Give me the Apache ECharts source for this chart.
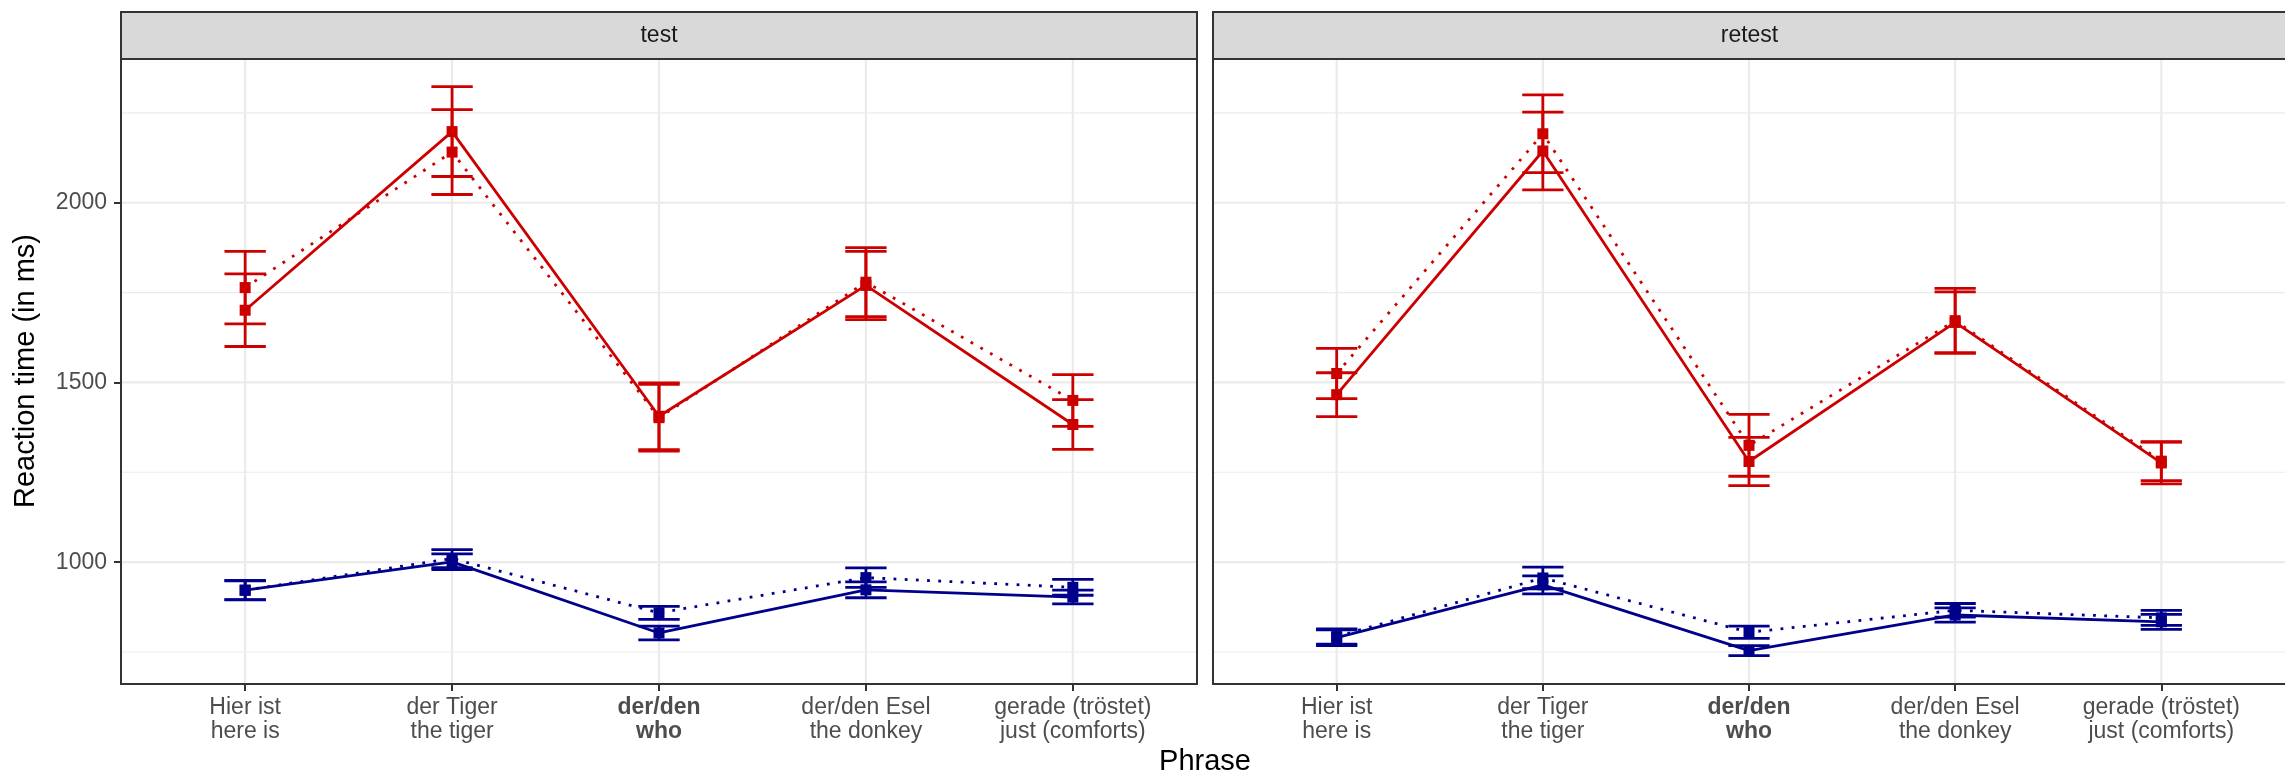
<!DOCTYPE html>
<html>
<head>
<meta charset="utf-8">
<script src="https://cdn.jsdelivr.net/npm/echarts@6/dist/echarts.min.js"></script>
<style>
html,body{margin:0;padding:0;background:#fff;}
#chart{width:2285px;height:782px;}
</style>
</head>
<body>
<div id="chart"></div>
<script>
// ---- data ----
const categories = [
  ["Hier ist", "here is"],
  ["der Tiger", "the tiger"],
  ["der/den", "who"],
  ["der/den Esel", "the donkey"],
  ["gerade (tröstet)", "just (comforts)"]
];
const boldCategory = 2;
const panels = ["test", "retest"];
const yTickLabels = [1000, 1500, 2000];
const yMinorLines = [750, 1250, 1750, 2250];

// test panel
const testRedSolid      = [1701, 2198, 1406, 1770, 1383];
const testRedSolidErr   = [101, 125, 93, 95, 69];
const testRedDotted     = [1764, 2141, 1402, 1779, 1450];
const testRedDottedErr  = [101, 118, 93, 96, 72];
const testBlueSolid     = [922, 1001, 803, 923, 903];
const testBlueSolidErr  = [27, 22, 19, 22, 19];
const testBlueDotted    = [922, 1010, 859, 957, 930];
const testBlueDottedErr = [26, 25, 18, 27, 22];

// retest panel
const retestRedSolid      = [1466, 2144, 1280, 1667, 1276];
const retestRedSolidErr   = [61, 108, 67, 85, 58];
const retestRedDotted     = [1525, 2192, 1325, 1672, 1281];
const retestRedDottedErr  = [70, 108, 86, 90, 54];
const retestBlueSolid     = [790, 937, 754, 853, 834];
const retestBlueSolidErr  = [22, 25, 14, 20, 21];
const retestBlueDotted    = [793, 956, 805, 866, 845];
const retestBlueDottedErr = [21, 30, 17, 19, 21];

// ---- styles / layout ----
const RED = '#CD0000', BLUE = '#00008B';
const FONT = "'Liberation Sans', Arial, Helvetica, sans-serif";
const Y_MIN = 661, Y_MAX = 2400;
const gridsPx = [
  {left: 121, top: 59, width: 1076, height: 625},
  {left: 1213, top: 59, width: 1077, height: 625}
];
const LW = 2.8;

const chart = echarts.init(document.getElementById('chart'), null, {renderer: 'canvas'});

const catIdx = categories.map((c, i) => i);

function hGridSeries(g) {
  const data = yMinorLines.map(v => [0, v, 0]).concat(yTickLabels.map(v => [0, v, 1]));
  return {
    type: 'custom', xAxisIndex: g, yAxisIndex: g, z: 0, silent: true,
    data: data,
    encode: {x: 0, y: 1},
    renderItem: (params, api) => {
      const cs = params.coordSys;
      const y = api.coord([0, api.value(1)])[1];
      const major = api.value(2) === 1;
      return {type: 'line', shape: {x1: cs.x, y1: y, x2: cs.x + cs.width, y2: y},
        style: {stroke: '#EBEBEB', lineWidth: major ? 2.2 : 1.1}};
    }
  };
}
function vGridSeries(g) {
  return {
    type: 'custom', xAxisIndex: g, yAxisIndex: g, z: 0, silent: true,
    data: catIdx.map(i => [i, Y_MIN]),
    encode: {x: 0, y: 1},
    renderItem: (params, api) => {
      const cs = params.coordSys;
      const x = api.coord([api.value(0), Y_MIN])[0];
      return {type: 'line', shape: {x1: x, y1: cs.y, x2: x, y2: cs.y + cs.height},
        style: {stroke: '#EBEBEB', lineWidth: 2.2}};
    }
  };
}
function errSeries(g, means, errs, color) {
  return {
    type: 'custom', xAxisIndex: g, yAxisIndex: g, z: 3, silent: true,
    data: means.map((m, i) => [i, m - errs[i], m + errs[i]]),
    encode: {x: 0, y: [1, 2]},
    renderItem: (params, api) => {
      const x = api.value(0);
      const lo = api.coord([x, api.value(1)]);
      const hi = api.coord([x, api.value(2)]);
      const half = api.coord([x + 0.1, api.value(1)])[0] - lo[0];
      const st = {stroke: color, lineWidth: LW};
      return {type: 'group', children: [
        {type: 'line', shape: {x1: lo[0], y1: lo[1], x2: hi[0], y2: hi[1]}, style: st},
        {type: 'line', shape: {x1: lo[0] - half, y1: lo[1], x2: lo[0] + half, y2: lo[1]}, style: st},
        {type: 'line', shape: {x1: hi[0] - half, y1: hi[1], x2: hi[0] + half, y2: hi[1]}, style: st}
      ]};
    }
  };
}
function lineSeries(g, means, color, dotted) {
  return {
    type: 'line', xAxisIndex: g, yAxisIndex: g, z: 4, silent: true,
    data: means.map((m, i) => [i, m]),
    symbol: 'rect', symbolSize: 11, showSymbol: true,
    itemStyle: {color: color},
    lineStyle: {color: color, width: LW, type: dotted ? [LW, LW * 3] : 'solid', cap: 'butt'},
    animation: false
  };
}

const panelData = [
  [[testRedSolid, testRedSolidErr, RED, false], [testRedDotted, testRedDottedErr, RED, true],
   [testBlueSolid, testBlueSolidErr, BLUE, false], [testBlueDotted, testBlueDottedErr, BLUE, true]],
  [[retestRedSolid, retestRedSolidErr, RED, false], [retestRedDotted, retestRedDottedErr, RED, true],
   [retestBlueSolid, retestBlueSolidErr, BLUE, false], [retestBlueDotted, retestBlueDottedErr, BLUE, true]]
];

const series = [];
panels.forEach((p, g) => {
  series.push(hGridSeries(g), vGridSeries(g));
  panelData[g].forEach(d => series.push(errSeries(g, d[0], d[1], d[2])));
  panelData[g].forEach(d => series.push(lineSeries(g, d[0], d[2], d[3])));
});

const labelRich = {
  n: {fontSize: 23, color: '#4D4D4D', fontFamily: FONT, lineHeight: 24},
  b: {fontSize: 23, color: '#4D4D4D', fontFamily: FONT, lineHeight: 24, fontWeight: 'bold'}
};

const xAxes = panels.map((p, g) => ({
  type: 'value', gridIndex: g, min: -0.6, max: categories.length - 0.4,
  axisLine: {show: false, onZero: false},
  splitLine: {show: false},
  axisTick: {show: true, customValues: catIdx, length: 7, lineStyle: {color: '#333333', width: 2}},
  axisLabel: {
    show: true, customValues: catIdx, margin: 12, align: 'center',
    formatter: (v) => {
      const i = Math.round(v);
      const c = categories[i];
      if (!c) return '';
      const k = i === boldCategory ? 'b' : 'n';
      return '{' + k + '|' + c[0] + '}\n{' + k + '|' + c[1] + '}';
    },
    rich: labelRich
  }
}));
const yAxes = panels.map((p, g) => ({
  type: 'value', gridIndex: g, min: Y_MIN, max: Y_MAX,
  axisLine: {show: false, onZero: false},
  splitLine: {show: false},
  axisTick: {show: g === 0, customValues: yTickLabels, length: 7, lineStyle: {color: '#333333', width: 2}},
  axisLabel: {show: g === 0, customValues: yTickLabels, margin: 14, fontSize: 23, color: '#4D4D4D', fontFamily: FONT,
    formatter: (v) => String(Math.round(v))}
}));

const graphics = [];
gridsPx.forEach((r, g) => {
  graphics.push({type: 'rect', z: 100, shape: {x: r.left, y: 12, width: r.width, height: r.top - 12},
    style: {fill: '#D9D9D9', stroke: '#333333', lineWidth: 2}});
  graphics.push({type: 'text', z: 101, x: r.left + r.width / 2 - (g === 1 ? 2 : 0), y: (12 + r.top) / 2,
    style: {text: panels[g], font: '23px ' + FONT, fill: '#1A1A1A', textAlign: 'center', textVerticalAlign: 'middle'}});
  graphics.push({type: 'rect', z: 100, shape: {x: r.left, y: r.top, width: r.width, height: r.height},
    style: {fill: null, stroke: '#333333', lineWidth: 2}});
});
graphics.push({type: 'text', z: 101, x: 26, y: 371, rotation: Math.PI / 2,
  style: {text: 'Reaction time (in ms)', font: '29px ' + FONT, fill: '#000', textAlign: 'center', textVerticalAlign: 'middle'}});
graphics.push({type: 'text', z: 101, x: 1205, y: 762,
  style: {text: 'Phrase', font: '29px ' + FONT, fill: '#000', textAlign: 'center', textVerticalAlign: 'middle'}});

chart.setOption({
  animation: false,
  backgroundColor: '#ffffff',
  grid: gridsPx.map(r => ({left: r.left, top: r.top, width: r.width, height: r.height, containLabel: false})),
  xAxis: xAxes,
  yAxis: yAxes,
  series: series,
  graphic: graphics
});
</script>
</body>
</html>
